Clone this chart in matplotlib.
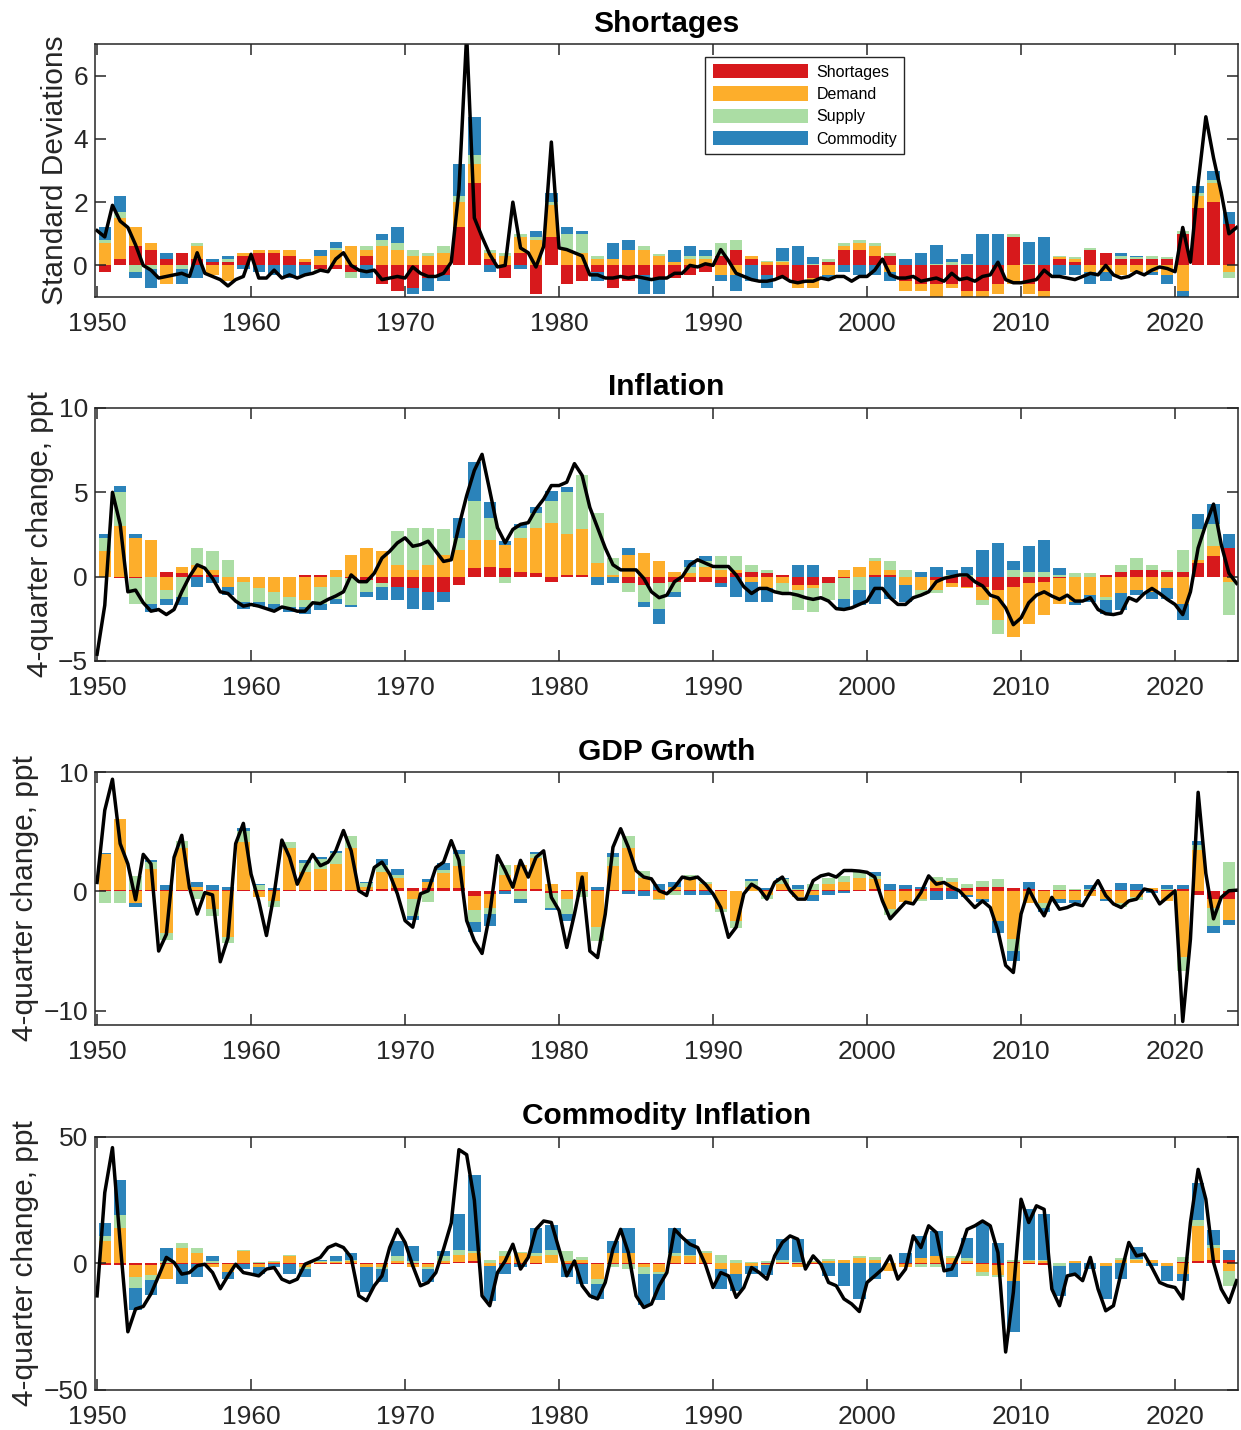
import numpy as np
import matplotlib.pyplot as plt

plt.rcParams['font.family'] = ['Liberation Sans', 'DejaVu Sans']

# annual contributions 1950-2023 and half-yearly totals 1950.0-2024.0
years = np.arange(1950, 2024)
half = np.arange(1950, 2024.25, 0.5)

names = ['Shortages', 'Demand', 'Supply', 'Commodity']
colors = ['#d7191c', '#fdae2b', '#abdda4', '#2b83ba']

# ---- Shortages ----
sh_short = [-0.2, 0.2, 0.6, 0.5, 0.2, 0.4, 0.2, 0.1, 0.1, 0.3,
            0.4, 0.4, 0.3, 0.1, -0.1, -0.1, -0.2, 0.3, -0.6, -0.8,
            -0.7, -0.4, -0.3, 1.2, 2.6, 0.2, -0.4, 0.4, -0.9, 0.9,
            -0.6, -0.5, -0.2, -0.7, -0.5, -0.3, -0.4, -0.4, -0.3, -0.2,
            0.3, 0.5, 0.2, -0.3, -0.4, -0.5, -0.4, 0.1, 0.5, 0.5,
            0.3, 0.3, -0.5, -0.6, -0.6, -0.6, -0.8, -0.8, -0.6, 0.9,
            -0.6, -0.8, 0.2, 0.1, 0.5, 0.4, 0.2, 0.2, 0.2, 0.2,
            1.0, 1.8, 2.0, 1.3]
sh_dem = [0.7, 1.3, 0.6, 0.2, -0.6, 0.0, 0.4, -0.3, -0.5, 0.1,
          0.1, 0.1, 0.2, 0.1, 0.3, 0.5, 0.6, 0.2, 0.6, 0.5,
          0.3, 0.3, 0.4, 0.8, 0.6, 0.2, 0.3, 0.5, 0.8, 1.0,
          0.5, 0.4, 0.2, 0.2, 0.5, 0.5, 0.3, 0.1, 0.2, 0.2,
          -0.3, -0.3, 0.1, 0.1, 0.1, -0.2, -0.3, -0.3, 0.1, 0.2,
          0.3, -0.2, -0.3, -0.2, -0.4, -0.1, -0.2, -0.3, -0.3, -0.6,
          -0.3, -0.3, 0.05, 0.1, -0.2, -0.2, -0.3, -0.2, -0.2, -0.3,
          -0.8, 0.4, 0.6, -0.2]
sh_sup = [0.1, 0.2, -0.2, -0.1, 0.0, -0.1, 0.1, 0.0, 0.1, 0.0,
          0.0, 0.0, 0.0, 0.0, -0.1, 0.05, -0.2, 0.1, 0.2, 0.2,
          0.2, 0.1, 0.2, 0.2, 0.3, 0.1, 0.1, 0.1, 0.1, 0.1,
          0.5, 0.6, 0.1, 0.0, 0.0, 0.1, 0.05, 0.0, 0.1, 0.1,
          0.4, 0.3, 0.0, 0.05, 0.05, 0.0, 0.05, 0.1, 0.1, 0.1,
          0.1, 0.1, 0.0, 0.0, 0.05, 0.1, 0.05, 0.0, 0.0, 0.1,
          0.05, 0.0, 0.05, 0.05, 0.05, 0.0, 0.1, 0.05, 0.1, 0.05,
          0.1, 0.1, 0.1, -0.2]
sh_com = [0.4, 0.5, -0.2, -0.6, 0.2, -0.5, -0.4, 0.1, 0.1, -0.1,
          -0.2, -0.3, -0.4, -0.3, 0.2, 0.2, 0.0, -0.4, 0.2, 0.5,
          -0.2, -0.4, -0.2, 1.0, 1.2, -0.2, 0.0, -0.1, 0.2, 0.3,
          0.2, 0.1, -0.3, 0.5, 0.3, -0.6, -0.5, 0.4, 0.3, 0.2,
          -0.2, -0.5, -0.5, -0.4, 0.4, 0.6, 0.2, -0.1, -0.2, -0.3,
          -0.3, -0.3, 0.2, 0.4, 0.6, 0.1, 0.3, 1.0, 1.0, 0.0,
          0.7, 0.9, -0.3, -0.3, -0.4, -0.3, 0.1, 0.05, -0.1, -0.3,
          -0.3, 0.2, 0.3, 0.4]
sh_total = [1.1, 0.9, 1.9, 1.4, 1.2, 0.65, 0.0, -0.15, -0.4, -0.35,
            -0.3, -0.25, -0.35, 0.4, -0.25, -0.35, -0.45, -0.65, -0.45, -0.35,
            0.35, -0.4, -0.4, -0.15, -0.4, -0.3, -0.4, -0.3, -0.25, -0.15,
            -0.2, 0.2, 0.4, 0.0, -0.15, -0.2, -0.15, -0.45, -0.4, -0.35,
            -0.4, -0.05, -0.25, -0.35, -0.35, -0.25, 0.1, 2.4, 7.3, 1.5,
            0.9, 0.35, -0.05, 0.0, 2.0, 0.55, 0.4, -0.05, 0.6, 3.9,
            0.55, 0.5, 0.4, 0.3, -0.3, -0.3, -0.4, -0.4, -0.35, -0.4,
            -0.35, -0.4, -0.45, -0.4, -0.4, -0.25, -0.25, 0.0, -0.05, 0.05,
            0.0, 0.5, 0.15, -0.25, -0.35, -0.45, -0.5, -0.5, -0.45, -0.35,
            -0.5, -0.55, -0.5, -0.5, -0.4, -0.45, -0.35, -0.35, -0.5, -0.35,
            -0.35, -0.15, 0.2, -0.3, -0.4, -0.4, -0.35, -0.5, -0.45, -0.4,
            -0.5, -0.25, -0.45, -0.4, -0.5, -0.35, -0.3, 0.1, -0.45, -0.55,
            -0.55, -0.5, -0.45, -0.15, -0.35, -0.35, -0.4, -0.45, -0.35, -0.25,
            -0.3, 0.0, -0.3, -0.4, -0.35, -0.2, -0.3, -0.15, -0.05, -0.1,
            -0.2, 1.2, 0.1, 2.6, 4.7, 3.4, 2.3, 1.0, 1.2]

# ---- Inflation ----
inf_short = [0.0, -0.1, -0.1, 0.0, 0.3, 0.2, 0.1, 0.1, 0.0, 0.0,
             0.0, 0.0, 0.0, 0.1, 0.1, 0.0, -0.1, -0.2, -0.4, -0.6,
             -0.7, -0.9, -0.9, -0.5, 0.5, 0.6, 0.5, 0.3, 0.2, -0.3,
             0.1, 0.1, 0.0, 0.0, -0.4, -0.5, -0.4, -0.3, -0.3, -0.3,
             -0.4, 0.2, 0.3, 0.2, 0.1, -0.5, -0.5, -0.4, -0.1, 0.0,
             0.1, 0.1, 0.0, 0.0, -0.2, -0.4, -0.6, -0.6, -0.8, -0.6,
             -0.4, -0.3, -0.1, 0.0, 0.0, 0.1, 0.3, 0.4, 0.4, 0.3,
             0.3, 0.8, 1.2, 1.7]
inf_dem = [1.5, 3.0, 2.3, 2.2, -0.8, 0.4, 0.6, 0.3, -0.6, -0.3,
           -0.7, -0.9, -1.2, -1.4, -0.6, 0.4, 1.3, 1.7, 1.5, 0.7,
           0.4, 0.7, 1.3, 1.6, 1.7, 1.6, 1.4, 2.0, 2.7, 3.2,
           2.4, 2.7, 0.8, 0.1, 1.3, 1.4, 0.9, 0.3, 0.2, 0.6,
           0.4, 0.2, -0.3, -0.7, -0.4, -0.3, -0.2, 0.0, 0.4, 0.6,
           0.8, 0.3, -0.5, -0.8, -0.6, -0.2, -0.1, -0.8, -1.8, -3.0,
           -2.4, -2.0, -1.5, -1.5, -1.1, -1.2, -1.0, -0.8, -0.9, -0.7,
           -1.6, 0.2, 0.6, -0.3]
inf_sup = [0.8, 2.0, -1.5, -1.6, -0.5, -1.2, 1.0, 1.1, 1.0, -1.2,
           -0.8, -0.7, -0.6, -0.4, -1.0, -1.3, -1.6, -0.7, -0.2, 2.0,
           2.5, 2.2, 1.5, 0.7, 2.3, 1.3, -0.4, 0.6, 0.9, 1.3,
           2.5, 3.2, 3.0, 1.0, -0.5, -1.0, -1.5, -0.6, 0.4, 0.3,
           0.8, 0.8, 0.4, 0.2, -0.5, -1.2, -1.4, -1.0, -1.2, -0.8,
           0.2, 0.5, 0.4, -0.3, -0.2, 0.1, 0.1, -0.3, -0.8, 0.4,
           0.3, 0.3, 0.1, 0.2, 0.2, -0.2, 0.4, 0.7, 0.3, 0.1,
           1.3, 1.8, 1.3, -2.0]
inf_com = [0.2, 0.4, 0.2, -0.5, -0.4, -0.5, -0.6, -0.4, -0.5, -0.4,
           -0.3, -0.3, -0.3, -0.4, -0.4, -0.3, -0.1, -0.3, -0.8, -0.8,
           -1.2, -1.1, -0.6, 1.2, 2.3, 0.9, 0.2, 0.2, 0.3, 0.6,
           0.3, 0.0, -0.5, -0.4, 0.4, -0.3, -0.9, -0.3, 0.4, 0.3,
           -0.2, -1.2, -1.2, -0.8, 0.0, 0.7, 0.7, 0.0, -0.6, -0.9,
           -1.6, -1.3, -1.0, 0.3, 0.6, 0.3, 0.5, 1.6, 2.0, 0.5,
           1.5, 1.9, 0.4, -0.2, -0.4, -0.8, -1.0, -0.3, -0.4, -0.6,
           -1.0, 0.9, 1.2, 0.8]
inf_total = [-4.6, -1.7, 5.0, 3.1, -0.9, -0.8, -1.55, -2.05, -1.95, -2.25,
             -1.95, -0.9, 0.0, 0.7, 0.5, -0.1, -0.9, -1.0, -1.45, -1.75,
             -1.65, -1.75, -1.9, -2.05, -1.8, -1.9, -2.05, -2.05, -1.55, -1.6,
             -1.35, -1.15, -0.9, 0.1, -0.3, -0.3, 0.2, 1.1, 1.5, 2.0,
             2.3, 1.8, 1.9, 2.1, 1.5, 0.9, 1.0, 3.0, 4.8, 6.3,
             7.25, 5.1, 2.9, 2.0, 2.8, 3.1, 3.2, 4.0, 4.6, 5.4,
             5.4, 5.6, 6.7, 6.0, 4.1, 2.9, 1.7, 0.7, 0.4, 0.4,
             0.4, -0.1, -0.9, -1.25, -1.1, -0.3, 0.0, 0.7, 1.0, 0.8,
             0.6, 0.6, 0.6, 0.1, -0.6, -1.0, -0.7, -0.7, -0.9, -1.0,
             -1.0, -1.1, -1.25, -1.35, -1.25, -1.45, -1.9, -1.95, -1.85, -1.65,
             -1.45, -0.7, -0.7, -1.25, -1.65, -1.65, -1.25, -1.1, -0.9, -0.3,
             -0.1, 0.0, 0.1, 0.1, -0.3, -0.55, -1.1, -1.25, -1.85, -2.85,
             -2.45, -1.55, -1.1, -0.9, -1.15, -1.35, -1.1, -1.45, -1.45, -1.25,
             -1.95, -2.2, -2.25, -2.15, -1.25, -1.45, -1.0, -0.7, -1.0, -1.35,
             -1.65, -2.25, -0.9, 1.7, 3.1, 4.3, 1.9, 0.2, -0.4]

# ---- GDP growth ----
gdp_short = [0.1, 0.1, 0.1, 0.1, 0.1, 0.1, 0.1, 0.1, 0.1, 0.1,
             0.1, 0.1, 0.1, 0.1, 0.1, 0.1, 0.1, 0.1, 0.2, 0.3,
             0.3, 0.3, 0.3, 0.3, -0.4, -0.2, 0.1, 0.2, 0.2, -0.1,
             0.1, 0.1, 0.1, 0.1, 0.1, 0.1, 0.1, 0.1, 0.1, 0.1,
             0.1, 0.0, 0.0, 0.1, 0.1, 0.1, 0.1, 0.1, 0.1, 0.1,
             0.2, 0.1, 0.2, 0.2, 0.3, 0.3, 0.3, 0.4, 0.4, 0.3,
             0.2, 0.1, 0.1, 0.1, 0.1, 0.1, 0.1, 0.1, 0.1, 0.1,
             0.2, -0.3, -0.6, -0.6]
gdp_dem = [3.0, 6.0, -1.0, 1.8, -3.5, 3.5, 0.3, -1.5, -3.8, 4.0,
           -0.5, -0.8, 3.5, 1.5, 1.8, 2.2, 3.5, 0.3, 1.4, 0.8,
           -0.6, 0.5, 1.2, 1.8, -1.2, -1.2, 1.3, 2.0, 2.6, 0.6,
           -0.6, 1.5, -3.0, 2.0, 3.5, 1.0, -0.6, 0.3, 1.0, 0.5,
           -1.5, -2.5, 0.4, -0.3, 0.5, -0.5, -0.3, 0.5, 0.7, 1.0,
           0.8, -1.5, -0.9, -0.6, 0.6, 0.5, -0.3, -0.6, -2.5, -4.0,
           -1.0, -1.0, -0.6, -0.7, -0.4, -0.6, -1.0, -0.5, 0.2, -0.8,
           -5.5, 3.5, -0.8, -1.8]
gdp_sup = [-1.0, -1.0, 1.2, 0.6, -0.6, 0.6, -0.6, -0.6, -0.5, 1.0,
           0.4, -0.5, 0.5, 0.8, 0.8, 0.9, 1.0, 0.3, 0.6, 0.3,
           -1.5, -0.9, 0.3, 1.0, -1.0, -0.5, 0.8, -0.6, 0.3, -1.3,
           -1.3, -0.5, -1.2, 0.8, 1.0, 0.6, -0.1, -0.3, 0.3, 0.2,
           -0.2, -0.6, 0.5, -0.3, 0.4, 0.1, 0.5, 0.5, 0.5, 0.5,
           0.3, -0.5, 0.0, -0.2, 0.3, 0.3, 0.3, 0.5, 0.6, -1.0,
           0.0, -0.4, 0.4, 0.1, 0.1, 0.0, -0.3, -0.2, 0.0, 0.1,
           -1.2, 0.4, -1.5, 2.5]
gdp_com = [0.1, 0.0, -0.3, 0.1, 0.4, 0.0, 0.4, 0.4, 0.3, 0.2,
           0.1, 0.2, 0.0, 0.2, 0.2, 0.2, 0.0, 0.1, 0.5, 0.5,
           -0.3, 0.2, 0.6, 0.4, -0.8, -1.0, -0.2, -0.4, 0.2, -0.2,
           -0.6, 0.0, 0.3, 0.3, -0.2, -0.4, 0.5, 0.4, -0.3, -0.3,
           0.0, 0.0, 0.1, 0.2, 0.1, 0.3, -0.5, -0.3, -0.1, 0.0,
           0.3, 0.5, 0.3, 0.2, -0.7, -0.6, -0.2, -0.3, -1.0, -0.8,
           0.6, -0.3, -0.4, -0.3, 0.3, -0.2, 0.6, 0.5, -0.1, 0.3,
           0.3, 0.3, -0.6, -0.4]
gdp_total = [0.75, 6.8, 9.4, 4.0, 2.3, -0.7, 3.1, 2.3, -5.0, -3.6,
             2.85, 4.7, 0.3, -1.9, -0.1, -0.3, -5.9, -3.9, 4.0, 5.7,
             1.45, -0.8, -3.7, -0.2, 4.3, 2.85, 0.6, 2.0, 3.1, 2.15,
             2.45, 3.4, 5.1, 3.4, 0.05, -0.35, 2.0, 2.45, 1.45, -0.2,
             -2.45, -3.0, -0.2, 0.05, 2.0, 2.45, 4.25, 2.6, -2.45, -4.15,
             -5.2, -1.9, 3.0, 1.75, 0.35, 2.6, 1.2, 2.85, 3.4, -0.5,
             -1.6, -4.7, -1.9, 1.2, -5.0, -5.55, -1.9, 3.7, 5.25, 3.7,
             1.75, 1.2, 1.05, 0.05, -0.2, 0.35, 1.2, 1.05, 1.2, 0.6,
             -0.2, -1.35, -3.85, -3.0, -0.2, 0.6, 0.2, -0.65, 0.75, 1.2,
             0.05, -0.65, -0.65, 0.9, 1.3, 1.45, 1.2, 1.75, 1.75, 1.7,
             1.6, 1.2, -0.8, -2.3, -1.6, -0.9, -1.05, -0.1, 1.3, 0.6,
             0.75, 0.35, 0.05, -0.65, -1.35, -0.8, -1.35, -3.3, -6.2, -6.8,
             -1.9, 0.2, -1.05, -2.05, -0.5, -1.5, -1.35, -1.05, -1.2, -0.1,
             0.9, -0.35, -1.05, -1.35, -0.8, -0.65, 0.2, 0.05, -1.05, -0.5,
             0.05, -10.9, -4.0, 8.3, 1.5, -2.3, -0.5, 0.05, 0.1]

# ---- Commodity inflation ----
com_short = [-0.5, -0.5, -0.5, -0.5, -0.3, -0.3, -0.3, -0.2, -0.2, -0.2,
             -0.2, -0.2, -0.2, -0.2, -0.2, -0.2, -0.2, -0.2, -0.3, -0.3,
             -0.3, -0.3, -0.3, 0.5, 1.0, 0.3, -0.2, -0.2, -0.3, 0.3,
             -0.3, -0.3, -0.2, -0.3, -0.3, -0.3, -0.3, -0.3, -0.2, -0.2,
             0.3, 0.3, 0.2, -0.2, -0.2, -0.3, -0.3, 0.1, 0.3, 0.3,
             0.2, 0.2, -0.3, -0.3, -0.3, -0.4, -0.4, -0.4, -0.5, 0.5,
             -0.4, -0.5, 0.2, 0.1, 0.3, 0.3, 0.2, 0.2, 0.2, 0.2,
             0.6, 1.0, 1.2, 1.5]
com_dem = [9, 14, -5, -4, -6, 6, 4, -1, -3, 5,
           -1, 0.5, 3, -1, 0.5, 0.5, 1, -1, -1, 1,
           -1, -1, 1, 3, 3, -1, 3, 4, 3, 3,
           1, 1.5, -6, 4, 4, -1, -3, 3, 3, 4,
           -2, -4, -1, -0.5, 0.5, -1, 0.5, 1, 1, 2,
           1, -3, -1, 2, 3, 2, 1, -3, -4, -7,
           1, 1, 0, 1, 0, -1, 1, 1, 1, -1,
           -4, 14, 5, -3]
com_sup = [2, 5, -4, -2, 1, 2, 2, 1, 0, 0.5,
           0.5, 0.5, 0.5, -1, 0.5, 0.5, 0.2, 0, -1, 2,
           1, -1, 2, 2, 1, 1, 2, 0.5, 1, 2,
           4, 1, -2, -1, -2, -3, -1, 1, 0.5, 1,
           3, 1, 0.5, 1, 1, 0.5, 0.5, 0.5, 0, 0.5,
           1.5, 0, 0, -1, -1, 1, 1, -1.5, -1, 1,
           0.5, 0.5, -1, 0, 0, 0, 1, 0.5, 0, 0,
           2, 2, 1, -6]
com_com = [5, 14, -9, -6, 5, -8, -5, 2, -3, -2,
           -3, -1, -4, -3, 0.5, 2, 3, -10, -5, 6,
           6, -5, 2, 14, 30, -14, -4, -1, 10, 10,
           -5, -8, -6, 5, 10, -12, -10, 10, 6, 0,
           -8, -7, -3, -4, 8, 9, 0, -5, -9, -14,
           -6, 0, 4, 9, 10, -5, 8, 16, 8, -20,
           20, 18, -12, -5, -2, -13, -6, 5, -1, -6,
           -3, 15, 6, 4]
com_total = [-12.8, 28, 45.8, 8.3, -27, -18, -17, -12, -4.9, 2.4,
             0.4, -4.2, -3.6, -0.9, -0.3, -3.6, -10, -4.9, -0.3, -3.6,
             -4.2, -4.9, -2.2, -1.6, -6.2, -7.5, -6.2, -0.3, 1.0, 2.4,
             6.3, 7.6, 6.3, 2.4, -12.8, -14.7, -8.8, -4.9, 6.3, 13.5,
             8.3, -0.9, -8.8, -7.5, -3.6, 5.7, 16, 45, 43, 25,
             -12.8, -16.7, -3.6, 1.0, 7.6, -2.2, 2.4, 13.5, 16.8, 16.2,
             5.7, -4.9, 1.0, -8.8, -12.8, -14, -7.5, 5.7, 13.5, 4.3,
             -12.8, -17.4, -16, -8.8, -3.6, 13.5, 10.3, 7.6, 6.3, -0.3,
             -9.5, -3.6, -4.9, -13.4, -9.5, -1.6, -3.6, -6.2, 3.0, 8.3,
             10.9, 9.6, -2.2, 3.0, -0.3, -7.5, -8.8, -14, -16, -19,
             -7.5, -4.9, -2.2, 3.0, -6.2, -2.2, 10.9, 6.3, 14.9, 12.2,
             -2.9, -2.2, 4.3, 13.5, 14.9, 16.8, 14.9, 4.3, -35, -11.4,
             25.4, 16.2, 22.8, 21.4, -10.1, -16.7, -4.9, -4.2, -6.8, 2.4,
             -10.1, -18.7, -16.7, -3.6, 8.3, 3.0, 3.7, -1.6, -7.5, -8.8,
             -9.5, -14, 16.2, 37.2, 25.4, 0.4, -10.1, -15.4, -6.8]

panels = [
    ('Shortages', 'Standard Deviations', [sh_short, sh_dem, sh_sup, sh_com], sh_total,
     (-1, 7), [0, 2, 4, 6]),
    ('Inflation', '4-quarter change, ppt', [inf_short, inf_dem, inf_sup, inf_com], inf_total,
     (-5, 10), [-5, 0, 5, 10]),
    ('GDP Growth', '4-quarter change, ppt', [gdp_short, gdp_dem, gdp_sup, gdp_com], gdp_total,
     (-11.2, 10), [-10, 0, 10]),
    ('Commodity Inflation', '4-quarter change, ppt', [com_short, com_dem, com_sup, com_com], com_total,
     (-50, 50), [-50, 0, 50]),
]

fig = plt.figure(figsize=(12.41, 14.30), dpi=100)
bottoms = [0.7923, 0.5378, 0.2832, 0.0280]

for i, (title, ylab, parts, total, ylim, yt) in enumerate(panels):
    ax = fig.add_axes([0.0766, bottoms[i], 0.921, 0.1769])
    pos = np.zeros(len(years))
    neg = np.zeros(len(years))
    handles = []
    for vals, col, name in zip(parts, colors, names):
        v = np.asarray(vals, dtype=float)
        up = np.where(v > 0, v, 0.0)
        dn = np.where(v < 0, v, 0.0)
        h = ax.bar(years + 0.5, up, width=0.8, bottom=pos, color=col,
                   linewidth=0, label=name)
        ax.bar(years + 0.5, dn, width=0.8, bottom=neg, color=col, linewidth=0)
        pos += up
        neg += dn
        handles.append(h)
    ax.plot(half, total, color='black', lw=2.5)

    ax.set_xlim(1949.87, 2024.09)
    ax.set_ylim(*ylim)
    ax.set_xticks(np.arange(1950, 2021, 10))
    ax.set_yticks(yt)
    ax.tick_params(direction='in', length=8, width=1.1, top=True, right=True,
                   labelsize=19, color='#262626', labelcolor='#262626')
    ax.tick_params(axis='x', pad=11)
    ax.tick_params(axis='y', pad=5)
    for s in ax.spines.values():
        s.set_color('#262626')
        s.set_linewidth(1.1)
    ax.set_title(title, fontsize=21.5, fontweight='bold', pad=9)
    ax.set_ylabel(ylab, fontsize=21.5, color='#262626', labelpad=3)

    if i == 0:
        leg = ax.legend(handles=handles, loc='upper left',
                        bbox_to_anchor=(0.534, 0.949), borderaxespad=0,
                        fontsize=11.5, handlelength=6.0, handleheight=1.0,
                        labelspacing=0.42, handletextpad=0.5, borderpad=0.45,
                        fancybox=False, framealpha=1)
        leg.get_frame().set_edgecolor('#262626')
        leg.get_frame().set_linewidth(1.0)

fig.savefig('out.png', dpi=100)
